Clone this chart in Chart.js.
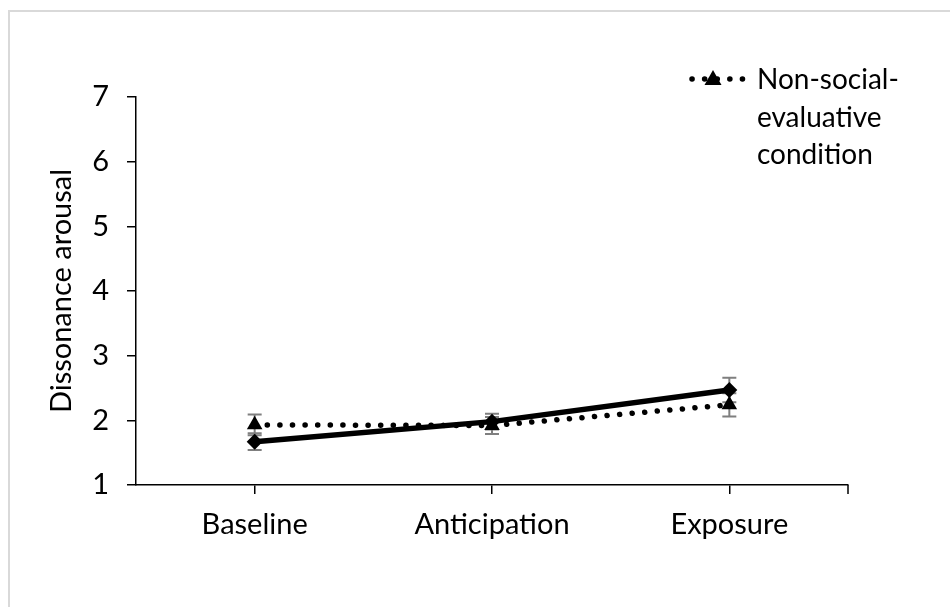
<!DOCTYPE html>
<html>
<head>
<meta charset="utf-8">
<script src="https://cdn.jsdelivr.net/npm/chart.js@4"></script>
<style>
  html, body { margin: 0; padding: 0; background: #fff; }
  #wrap { position: relative; width: 950px; height: 607px; overflow: hidden; }
  #frame { position: absolute; left: 8px; top: 10px; width: 1000px; height: 700px; border: 2px solid #d9d9d9; box-sizing: border-box; }
  canvas { position: absolute; left: 0; top: 0; }
</style>
</head>
<body>
<div id="wrap">
  <div id="frame"></div>
  <canvas id="c" width="950" height="607"></canvas>
</div>
<script>
const categories = ['Baseline', 'Anticipation', 'Exposure'];
const socialMeans = [1.67, 1.98, 2.47];
const socialErr = [0.13, 0.12, 0.19];
const nonSocialMeans = [1.93, 1.92, 2.24];
const nonSocialErr = [0.16, 0.13, 0.18];
const yTickValues = [1, 2, 3, 4, 5, 6, 7];
const yTitle = 'Dissonance arousal';
const legendLines = ['Non-social-', 'evaluative', 'condition'];

const FONT = 'Lato, "Liberation Sans", sans-serif';
const FS = 29;

const errorBars = {
  id: 'errorBars',
  beforeDatasetsDraw(chart) {
    const ctx = chart.ctx;
    const y = chart.scales.y;
    const errs = [socialErr, nonSocialErr];
    chart.data.datasets.forEach((ds, di) => {
      const meta = chart.getDatasetMeta(di);
      meta.data.forEach((pt, i) => {
        const top = y.getPixelForValue(ds.data[i] + errs[di][i]);
        const bot = y.getPixelForValue(ds.data[i] - errs[di][i]);
        ctx.save();
        ctx.strokeStyle = '#7f7f7f';
        ctx.lineWidth = 2;
        ctx.beginPath();
        ctx.moveTo(pt.x, top); ctx.lineTo(pt.x, bot);
        ctx.moveTo(pt.x - 7, top); ctx.lineTo(pt.x + 7, top);
        ctx.moveTo(pt.x - 7, bot); ctx.lineTo(pt.x + 7, bot);
        ctx.stroke();
        ctx.restore();
      });
    });
  }
};

const extras = {
  id: 'extras',
  afterDraw(chart) {
    const ctx = chart.ctx;
    const x = chart.scales.x;
    ctx.save();
    ctx.strokeStyle = '#000';
    ctx.lineWidth = 1.5;
    ctx.beginPath();
    ctx.moveTo(x.right, x.top);
    ctx.lineTo(x.right, x.top + 9);
    ctx.stroke();
    // legend
    const ly = 79;
    ctx.lineWidth = 5.5;
    ctx.lineCap = 'round';
    ctx.setLineDash([0.1, 12.5]);
    ctx.beginPath();
    ctx.moveTo(692, ly);
    ctx.lineTo(744, ly);
    ctx.stroke();
    ctx.setLineDash([]);
    ctx.fillStyle = '#000';
    ctx.beginPath();
    ctx.moveTo(713, ly - 9);
    ctx.lineTo(721.5, ly + 6);
    ctx.lineTo(704.5, ly + 6);
    ctx.closePath();
    ctx.fill();
    ctx.font = '28px ' + FONT;
    ctx.textBaseline = 'middle';
    ctx.textAlign = 'left';
    legendLines.forEach((t, i) => ctx.fillText(t, 757, 80 + i * 37.5));
    ctx.restore();
  }
};

new Chart(document.getElementById('c'), {
  type: 'line',
  data: {
    labels: categories,
    datasets: [
      {
        label: 'Social-evaluative condition',
        data: socialMeans,
        borderColor: '#000',
        backgroundColor: '#000',
        borderWidth: 5.5,
        pointStyle: 'rectRot',
        pointRadius: 8,
        pointBorderWidth: 0,
        tension: 0,
        order: 0
      },
      {
        label: 'Non-social-evaluative condition',
        data: nonSocialMeans,
        borderColor: '#000',
        backgroundColor: '#000',
        borderWidth: 5.5,
        borderDash: [0.1, 12.5],
        borderCapStyle: 'round',
        pointStyle: 'triangle',
        pointRadius: 9,
        pointBorderWidth: 0,
        tension: 0,
        order: 1
      }
    ]
  },
  options: {
    responsive: false,
    animation: false,
    devicePixelRatio: 1,
    layout: { padding: { left: 0, top: 97, right: 102, bottom: 0 } },
    plugins: { legend: { display: false }, tooltip: { enabled: false } },
    scales: {
      x: {
        type: 'category',
        offset: true,
        grid: { display: true, drawOnChartArea: false, offset: false, color: '#000', lineWidth: 1.5, tickLength: 9 },
        border: { display: true, color: '#000', width: 1.5 },
        ticks: { color: '#000', font: { family: FONT, size: FS }, padding: 13 },
        afterFit(s) { s.height = 122; }
      },
      y: {
        min: 1, max: 7,
        afterBuildTicks(s) { s.ticks = yTickValues.map(v => ({ value: v })); },
        grid: { display: true, drawOnChartArea: false, color: '#000', lineWidth: 1.5, tickLength: 9 },
        border: { display: true, color: '#000', width: 1.5 },
        ticks: { color: '#000', font: { family: FONT, size: FS }, padding: 18 },
        title: { display: true, text: yTitle, color: '#000', font: { family: FONT, size: FS }, padding: { top: 44, bottom: 0 } },
        afterFit(s) { s.width = 136; }
      }
    }
  },
  plugins: [errorBars, extras]
});
</script>
</body>
</html>
